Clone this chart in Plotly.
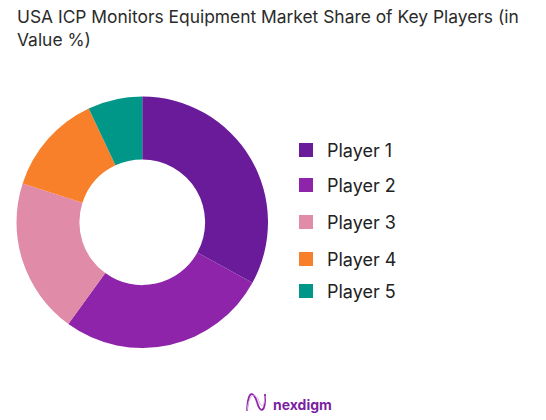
import plotly.graph_objects as go

W, H = 546, 420

players = ["Player 1", "Player 2", "Player 3", "Player 4", "Player 5"]
share = [33, 27, 20, 13, 7]
colors = ["#6A1B9A", "#8E24AA", "#E08BA8", "#F9802A", "#009688"]

# pixel rows of the legend entries, they are not evenly spaced
legend_y = [150, 185, 222, 259, 291]

FONT = "Inter"


def px(x):
    return x / W


def py(y):
    return 1 - y / H


fig = go.Figure(data=[go.Pie(
    labels=players,
    values=share,
    hole=0.5,
    sort=False,
    direction="clockwise",
    rotation=0,
    marker=dict(colors=colors, line=dict(width=0)),
    textinfo="none",
    hoverinfo="label+percent",
    showlegend=False,
    domain=dict(x=[px(16.5), px(268)], y=[py(348), py(96.5)]),
)])

shapes = []
annotations = []

for name, col, y in zip(players, colors, legend_y):
    shapes.append(dict(type="rect", xref="paper", yref="paper",
                       x0=px(299), x1=px(313), y0=py(y + 7), y1=py(y - 7),
                       fillcolor=col, line=dict(width=0)))
    annotations.append(dict(text=name, xref="paper", yref="paper",
                            x=px(325), y=py(y), xanchor="left", yanchor="middle",
                            showarrow=False,
                            font=dict(family=FONT, size=18, color="#222222")))

# title
annotations.append(dict(text="USA ICP Monitors Equipment Market Share of Key Players (in<br>Value %)",
                        xref="paper", yref="paper", x=px(15), y=py(4),
                        xanchor="left", yanchor="top", align="left", showarrow=False,
                        font=dict(family=FONT, size=17.4, color="#2b2b2b")))

# logo
annotations.append(dict(text="<b>nexdigm</b>", xref="paper", yref="paper",
                        x=px(271), y=py(404), xanchor="left", yanchor="middle",
                        showarrow=False,
                        font=dict(family=FONT, size=14, color="#7B1FA2")))


def logo_path(pts):
    (x0, y0), (x1, y1), (x2, y2), (x3, y3) = pts
    return (f"M {px(x0)} {py(y0)} C {px(x1)} {py(y1)} {px(x2)} {py(y2)} {px(x3)} {py(y3)}")


logo_curves = [
    ([(247, 411), (248, 388), (254, 392), (257, 402)], "#8E24AA", 1.8),
    ([(257, 402), (260, 414), (266, 413), (265, 394)], "#8E24AA", 1.8),
    ([(247, 411), (249, 394), (254, 392), (258, 399)], "#D9A9DF", 1),
    ([(258, 399), (261, 407), (264, 410), (265, 396)], "#D9A9DF", 1),
]
for pts, col, lw in logo_curves:
    shapes.append(dict(type="path", xref="paper", yref="paper",
                       path=logo_path(pts), line=dict(color=col, width=lw)))

fig.update_layout(
    width=W, height=H,
    margin=dict(l=0, r=0, t=0, b=0),
    paper_bgcolor="white",
    plot_bgcolor="white",
    shapes=shapes,
    annotations=annotations,
)

# the browser's default body margin would push the figure down and right
fig.write_html("out.html", config=dict(displayModeBar=False),
               post_script="document.body.style.margin = '0'; document.documentElement.style.overflow = 'hidden';")
